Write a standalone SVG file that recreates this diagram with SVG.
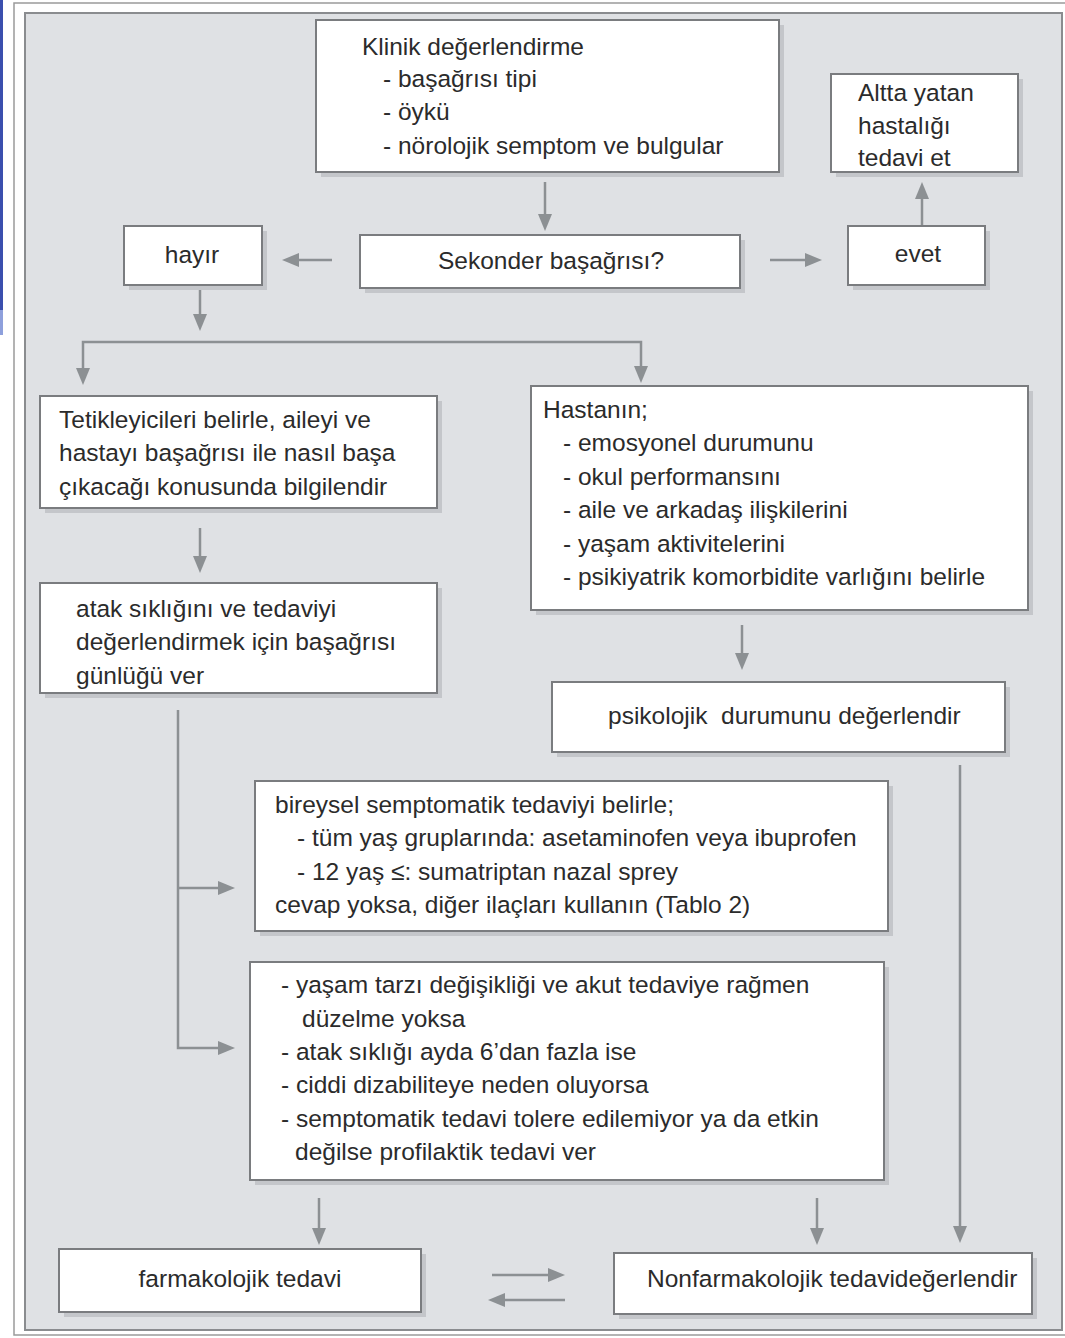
<svg xmlns="http://www.w3.org/2000/svg" width="1065" height="1338" viewBox="0 0 1065 1338">
<defs>
<style>
.box{fill:#ffffff;stroke:#7a7c7f;stroke-width:2}
.sh{fill:#c4c6ca}
.t{font-family:"Liberation Sans",Arial,sans-serif;font-size:24.5px;fill:#2b2b2b;white-space:pre}
.c{text-anchor:middle}
.ln{fill:none;stroke:#8c9093;stroke-width:2.5}
.hd{fill:#8c9093}
</style>
</defs>
<rect x="0" y="0" width="1065" height="1338" fill="#ffffff"/>
<rect x="0" y="0" width="3" height="310" fill="#3b4fae"/>
<rect x="0" y="310" width="3" height="25" fill="#8ea0dc"/>
<rect x="14" y="3" width="1060" height="1332" fill="none" stroke="#9a9a9a" stroke-width="1.5"/>
<rect x="25" y="13" width="1037" height="1317" fill="#dfe1e4" stroke="#8a8c8f" stroke-width="2"/>

<g id="connectors">
<path class="ln" d="M545 182V218"/><polygon class="hd" points="538,214 552,214 545,231"/>
<path class="ln" d="M332 260H296"/><polygon class="hd" points="299,253 299,267 282,260"/>
<path class="ln" d="M770 260H808"/><polygon class="hd" points="805,253 805,267 822,260"/>
<path class="ln" d="M922 226V196"/><polygon class="hd" points="915,199 929,199 922,182"/>
<path class="ln" d="M200 290V318"/><polygon class="hd" points="193,314 207,314 200,331"/>
<path class="ln" d="M83 372V342H641V372"/>
<polygon class="hd" points="76,368 90,368 83,385"/>
<polygon class="hd" points="634,366 648,366 641,383"/>
<path class="ln" d="M200 528V560"/><polygon class="hd" points="193,556 207,556 200,573"/>
<path class="ln" d="M742 625V657"/><polygon class="hd" points="735,653 749,653 742,670"/>
<path class="ln" d="M178 710V1048H222M178 888H222"/>
<polygon class="hd" points="218,881 218,895 235,888"/>
<polygon class="hd" points="218,1041 218,1055 235,1048"/>
<path class="ln" d="M960 765V1228"/><polygon class="hd" points="953,1226 967,1226 960,1243"/>
<path class="ln" d="M319 1198V1230"/><polygon class="hd" points="312,1228 326,1228 319,1245"/>
<path class="ln" d="M817 1198V1230"/><polygon class="hd" points="810,1228 824,1228 817,1245"/>
<path class="ln" d="M492 1275H552"/><polygon class="hd" points="548,1268 548,1282 565,1275"/>
<path class="ln" d="M565 1300H502"/><polygon class="hd" points="505,1293 505,1307 488,1300"/>
</g>

<g id="n-klinik">
<rect class="sh" x="321" y="25" width="463" height="152"/>
<rect class="box" x="316" y="20" width="463" height="152"/>
<text class="t" x="362" y="55">Klinik değerlendirme</text>
<text class="t" x="383" y="87">- başağrısı tipi</text>
<text class="t" x="383" y="120">- öykü</text>
<text class="t" x="383" y="154">- nörolojik semptom ve bulgular</text>
</g>
<g id="n-altta">
<rect class="sh" x="836" y="79" width="187" height="98"/>
<rect class="box" x="831" y="74" width="187" height="98"/>
<text class="t" x="858" y="101">Altta yatan</text>
<text class="t" x="858" y="134">hastalığı</text>
<text class="t" x="858" y="166">tedavi et</text>
</g>
<g id="n-hayir">
<rect class="sh" x="129" y="231" width="138" height="59"/>
<rect class="box" x="124" y="226" width="138" height="59"/>
<text class="t c" x="192" y="263">hayır</text>
</g>
<g id="n-sekonder">
<rect class="sh" x="365" y="240" width="380" height="53"/>
<rect class="box" x="360" y="235" width="380" height="53"/>
<text class="t c" x="551" y="269">Sekonder başağrısı?</text>
</g>
<g id="n-evet">
<rect class="sh" x="853" y="231" width="137" height="59"/>
<rect class="box" x="848" y="226" width="137" height="59"/>
<text class="t c" x="918" y="262">evet</text>
</g>
<g id="n-tetik">
<rect class="sh" x="45" y="401" width="397" height="112"/>
<rect class="box" x="40" y="396" width="397" height="112"/>
<text class="t" x="59" y="428">Tetikleyicileri belirle, aileyi ve</text>
<text class="t" x="59" y="461">hastayı başağrısı ile nasıl başa</text>
<text class="t" x="59" y="495">çıkacağı konusunda bilgilendir</text>
</g>
<g id="n-hastanin">
<rect class="sh" x="536" y="391" width="497" height="224"/>
<rect class="box" x="531" y="386" width="497" height="224"/>
<text class="t" x="543" y="418">Hastanın;</text>
<text class="t" x="563" y="451">- emosyonel durumunu</text>
<text class="t" x="563" y="485">- okul performansını</text>
<text class="t" x="563" y="518">- aile ve arkadaş ilişkilerini</text>
<text class="t" x="563" y="552">- yaşam aktivitelerini</text>
<text class="t" x="563" y="585">- psikiyatrik komorbidite varlığını belirle</text>
</g>
<g id="n-atak">
<rect class="sh" x="45" y="588" width="397" height="110"/>
<rect class="box" x="40" y="583" width="397" height="110"/>
<text class="t" x="76" y="617">atak sıklığını ve tedaviyi</text>
<text class="t" x="76" y="650">değerlendirmek için başağrısı</text>
<text class="t" x="76" y="684">günlüğü ver</text>
</g>
<g id="n-psikolojik">
<rect class="sh" x="557" y="687" width="453" height="70"/>
<rect class="box" x="552" y="682" width="453" height="70"/>
<text class="t" x="608" y="724">psikolojik  durumunu değerlendir</text>
</g>
<g id="n-bireysel">
<rect class="sh" x="260" y="786" width="633" height="150"/>
<rect class="box" x="255" y="781" width="633" height="150"/>
<text class="t" x="275" y="813">bireysel semptomatik tedaviyi belirle;</text>
<text class="t" x="297" y="846">- tüm yaş gruplarında: asetaminofen veya ibuprofen</text>
<text class="t" x="297" y="880">- 12 yaş ≤: sumatriptan nazal sprey</text>
<text class="t" x="275" y="913">cevap yoksa, diğer ilaçları kullanın (Tablo 2)</text>
</g>
<g id="n-yasam">
<rect class="sh" x="255" y="967" width="634" height="218"/>
<rect class="box" x="250" y="962" width="634" height="218"/>
<text class="t" x="281" y="993">- yaşam tarzı değişikliği ve akut tedaviye rağmen</text>
<text class="t" x="302" y="1027">düzelme yoksa</text>
<text class="t" x="281" y="1060">- atak sıklığı ayda 6’dan fazla ise</text>
<text class="t" x="281" y="1093">- ciddi dizabiliteye neden oluyorsa</text>
<text class="t" x="281" y="1127">- semptomatik tedavi tolere edilemiyor ya da etkin</text>
<text class="t" x="295" y="1160">değilse profilaktik tedavi ver</text>
</g>
<g id="n-farma">
<rect class="sh" x="64" y="1254" width="362" height="63"/>
<rect class="box" x="59" y="1249" width="362" height="63"/>
<text class="t c" x="240" y="1287">farmakolojik tedavi</text>
</g>
<g id="n-nonfarma">
<rect class="sh" x="619" y="1258" width="418" height="61"/>
<rect class="box" x="614" y="1253" width="418" height="61"/>
<text class="t" x="647" y="1287">Nonfarmakolojik tedavideğerlendir</text>
</g>
</svg>
